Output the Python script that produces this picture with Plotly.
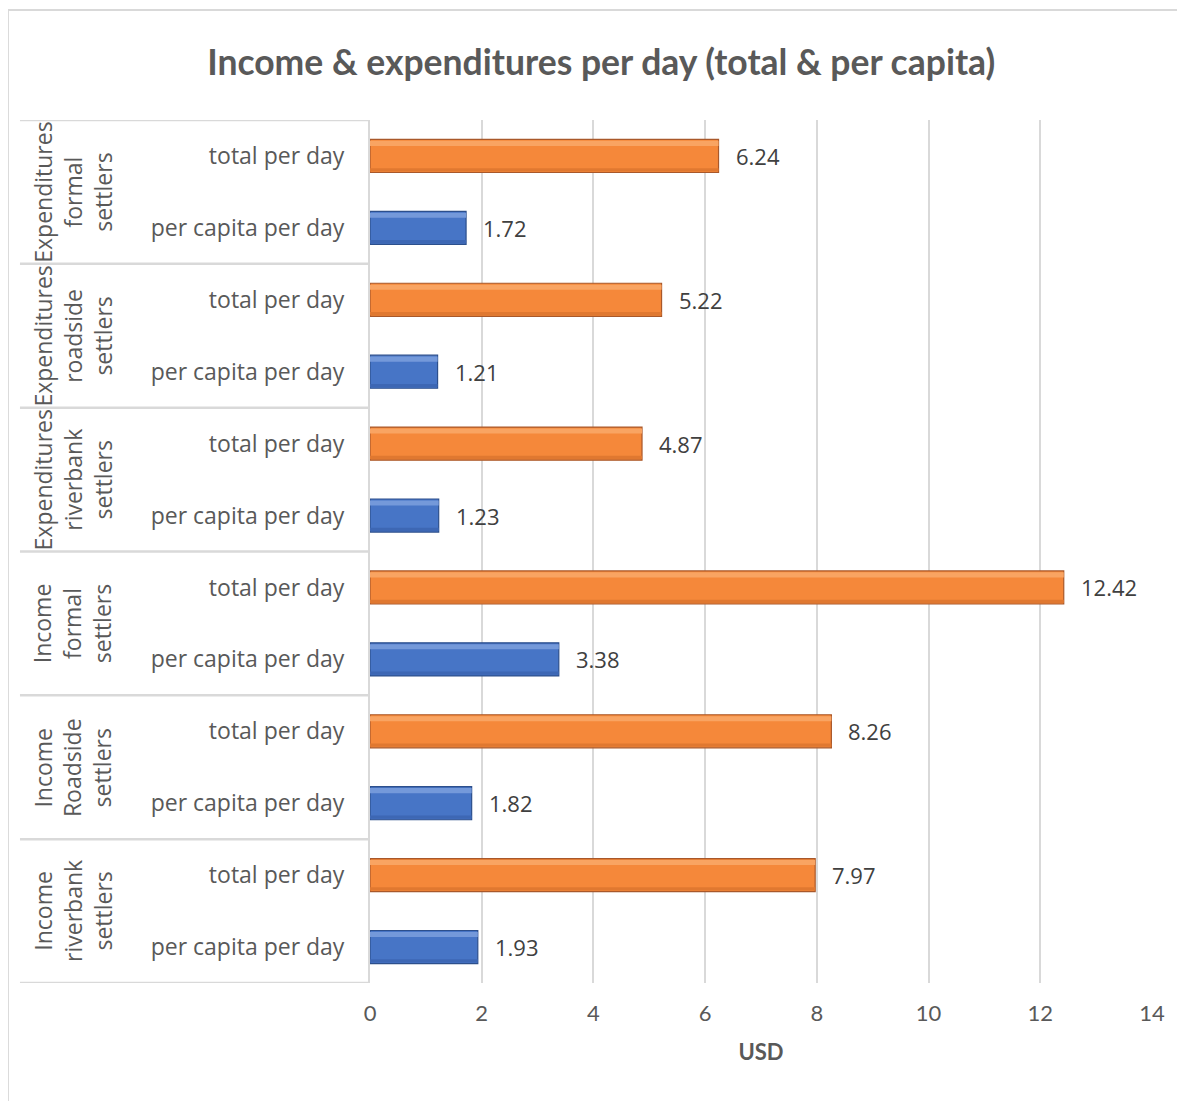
import plotly.graph_objects as go

# ---- data ----
group_labels = [
    "Expenditures<br>formal<br>settlers",
    "Expenditures<br>roadside<br>settlers",
    "Expenditures<br>riverbank<br>settlers",
    "Income<br>formal<br>settlers",
    "Income<br>Roadside<br>settlers",
    "Income<br>riverbank<br>settlers",
]
inner_labels = ["total per day", "per capita per day"]
total_per_day = [6.24, 5.22, 4.87, 12.42, 8.26, 7.97]
per_capita_per_day = [1.72, 1.21, 1.23, 3.38, 1.82, 1.93]
x_ticks = [0, 2, 4, 6, 8, 10, 12, 14]

n = len(group_labels)
y_total = [2 * i for i in range(n)]
y_pc = [2 * i + 1 for i in range(n)]
y_all = [v for i in range(n) for v in (y_total[i], y_pc[i])]
y_text = [inner_labels[j] for i in range(n) for j in range(2)]

TXT = "#595959"
GRID = "#d9d9d9"
FONT = "Open Sans"

fig = go.Figure()
W = 0.46

def bevel_bar(ys, xs, main, light, dark, edge):
    fig.add_trace(go.Bar(y=ys, x=xs, orientation="h", width=W, offset=-W / 2,
                         marker=dict(color=main, line=dict(color=edge, width=1.2)),
                         hoverinfo="x", showlegend=False))
    fig.add_trace(go.Bar(y=ys, x=xs, orientation="h", width=0.07, offset=-W / 2 + 0.02,
                         marker=dict(color=light, line=dict(width=0)),
                         hoverinfo="skip", showlegend=False))
    fig.add_trace(go.Bar(y=ys, x=xs, orientation="h", width=0.045, offset=W / 2 - 0.06,
                         marker=dict(color=dark, line=dict(width=0)),
                         hoverinfo="skip", showlegend=False))

bevel_bar(y_total, total_per_day, "#F5883A", "#F9A462", "#E07830", "#A9582A")
bevel_bar(y_pc, per_capita_per_day, "#4775C6", "#7499DA", "#3D67B4", "#2C4F8C")

# data labels
for ys, xs in ((y_total, total_per_day), (y_pc, per_capita_per_day)):
    for yy, xx in zip(ys, xs):
        fig.add_annotation(x=xx, y=yy, xref="x", yref="y", text=f"{xx:.2f}",
                           showarrow=False, xanchor="left", xshift=15,
                           font=dict(family=FONT, size=22, color="#404040"))

# outer group labels (rotated)
for i, lab in enumerate(group_labels):
    fig.add_annotation(x=-0.38, y=2 * i + 0.5, xref="paper", yref="y", text=lab,
                       showarrow=False, textangle=-90, xanchor="center", yanchor="middle",
                       font=dict(family=FONT, size=23, color=TXT))

# separator lines in label area
for k in range(n + 1):
    fig.add_shape(type="line", xref="paper", yref="y", x0=-0.4476, x1=0,
                  y0=2 * k - 0.5, y1=2 * k - 0.5, line=dict(color=GRID, width=2.5))

# outer chart border (clipped at right/bottom in reference)
fig.add_shape(type="line", xref="paper", yref="paper", x0=-0.463, x1=1.1,
              y0=1.1275, y1=1.1275, line=dict(color=GRID, width=2))
fig.add_shape(type="line", xref="paper", yref="paper", x0=-0.463, x1=-0.463,
              y0=1.1275, y1=-0.2, line=dict(color=GRID, width=2))

fig.update_layout(
    width=1177, height=1093,
    margin=dict(l=362, r=33, t=112, b=118),
    paper_bgcolor="white", plot_bgcolor="white",
    barmode="overlay",
    title=dict(text="<b>Income & expenditures per day (total & per capita)</b>",
               x=0.504, xanchor="center", y=0.95, yanchor="middle",
               font=dict(family="Lato", size=35.5, color=TXT)),
    xaxis=dict(range=[0, 14], tickvals=x_ticks, showgrid=True, gridcolor=GRID, gridwidth=1.5,
               zeroline=False, showline=False, ticks="",
               tickfont=dict(family="Lato", size=22, color=TXT), ticklabelstandoff=15,
               title=dict(text="<b>USD</b>", font=dict(family="Lato", size=22, color=TXT), standoff=19)),
    yaxis=dict(range=[2 * n - 0.5, -0.5], tickvals=y_all, ticktext=y_text,
               showgrid=False, zeroline=False, showline=True, linecolor=GRID, linewidth=2,
               ticks="", tickfont=dict(family=FONT, size=23, color=TXT), ticklabelstandoff=19),
)

fig.write_html("out.html")
